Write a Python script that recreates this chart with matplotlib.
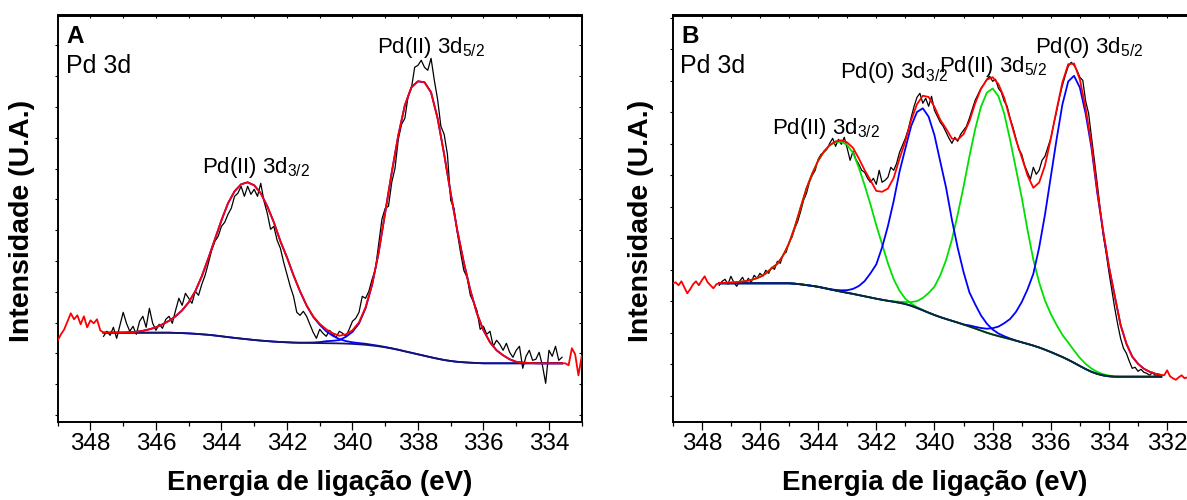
import numpy as np
import matplotlib
matplotlib.use("Agg")
import matplotlib.pyplot as plt
from matplotlib.ticker import MultipleLocator, FixedLocator, NullFormatter

plt.rcParams['font.family'] = ['Liberation Sans', 'DejaVu Sans']
plt.rcParams['mathtext.fontset'] = 'custom'
plt.rcParams['mathtext.rm'] = 'Liberation Sans'
plt.rcParams['mathtext.it'] = 'Liberation Sans:italic'
plt.rcParams['mathtext.bf'] = 'Liberation Sans:bold'

# ---------------------------------------------------------------- data
# Panel A : Pd 3d, only Pd(II).  Intensities in arbitrary units.
A_DATA_START, A_DATA_STEP = 347.6, 0.1          # measured spectrum, fit window
a_counts = [86, 91, 87, 95, 84, 97, 110, 99, 91, 96,
            88, 101, 106, 95, 114, 99, 92, 98, 94, 103,
            106, 99, 112, 124, 117, 129, 124, 119, 131, 127,
            138, 147, 159, 172, 181, 186, 196, 200, 208, 214,
            226, 229, 236, 226, 236, 228, 233, 226, 239, 221,
            209, 193, 196, 182, 174, 160, 148, 136, 126, 110,
            107, 111, 106, 98, 90, 84, 93, 89, 86, 92,
            88, 85, 91, 89, 86, 93, 101, 104, 110, 126,
            124, 131, 143, 153, 178, 203, 214, 216, 240, 254,
            283, 298, 304, 326, 334, 355, 357, 362, 355, 352,
            364, 342, 323, 296, 288, 268, 222, 214, 190, 170,
            152, 145, 127, 120, 112, 93, 96, 88, 91, 76,
            82, 78, 72, 79, 70, 65, 72, 76, 54, 66,
            72, 62, 63, 70, 57, 39, 72, 66, 76, 62,
            65]
# spectrum outside the fit window (drawn with the envelope colour)
a_edge_left = [82, 88, 93, 101, 109, 103, 107, 98, 106, 95, 102, 99, 103, 92, 89.6]   # 349.0 -> 347.6
a_edge_right = [59, 59, 57, 74, 68, 47, 66]                                           # 333.6 -> 333.0

A_FIT_START, A_FIT_STEP = 347.6, 0.2
a_background = [89.6, 89.6, 89.6, 89.6, 89.6, 89.6, 89.6, 89.6, 89.6, 89.6,
                89.6, 89.4, 89.2, 88.9, 88.5, 88.0, 87.5, 86.8, 86.0, 85.2,
                84.4, 83.7, 83.0, 82.3, 81.7, 81.2, 80.7, 80.3, 80.0, 79.7,
                79.5, 79.4, 79.3, 79.2, 79.1, 79.0, 78.9, 78.7, 78.4, 78.0,
                77.5, 76.8, 76.0, 75.0, 73.8, 72.5, 71.0, 69.5, 68.0, 66.5,
                65.0, 63.6, 62.3, 61.3, 60.5, 60.0, 59.6, 59.3, 59.0, 59.0,
                59.0, 59.0, 59.0, 59.0, 59.0, 59.0, 59.0, 59.0, 59.0, 59.0,
                59.0]
a_pd2_32 = [0, 0, 0, 0.1, 0.4, 0.9, 1.9, 3.4, 5.4, 8.4,
            11.9, 16.6, 22.8, 31.1, 42.5, 58.0, 76.5, 96.2, 116.0, 133.8,
            146.6, 154.3, 157.0, 154.7, 147.3, 134.8, 119.3, 100.7, 85.0, 67.3,
            51.4, 37.3, 26.2, 18.3, 11.9, 7.5, 4.3, 2.5, 1.6, 1.2,
            1.0, 0.7, 0.5, 0.3, 0.2, 0.1, 0, 0, 0, 0,
            0, 0, 0, 0, 0, 0, 0, 0, 0, 0,
            0, 0, 0, 0, 0, 0, 0, 0, 0, 0,
            0]
a_pd2_52 = [0, 0, 0, 0, 0, 0, 0, 0, 0, 0,
            0, 0, 0, 0, 0, 0, 0, 0, 0, 0,
            0, 0, 0, 0, 0, 0, 0, 0, 0, 0,
            0.1, 0.3, 0.5, 1.0, 2.0, 2.5, 3.3, 6.8, 12.0, 20.8,
            36.5, 60.5, 93.5, 134.7, 176.0, 214.5, 246.0, 265.5, 273.0, 273.5,
            265.0, 240.4, 205.7, 167.7, 131.5, 100.0, 72.4, 49.7, 33.0, 21.0,
            13.0, 8.0, 4.0, 1.5, 0.7, 0.3, 0.1, 0, 0, 0,
            0]

# Panel B : Pd 3d, Pd(0) + Pd(II)
B_DATA_START, B_DATA_STEP = 347.4, 0.1
b_counts = [137, 141, 143, 138, 146, 140, 136, 141, 145, 139,
            144, 140, 147, 144, 149, 146, 152, 149, 155, 153,
            161, 159, 168, 170, 180, 185, 194, 201, 211, 222,
            229, 240, 247, 252, 263, 268, 270, 273, 279, 284,
            276, 283, 278, 285, 274, 262, 271, 263, 258, 252,
            250, 244, 240, 244, 238, 252, 240, 242, 245, 255,
            252, 259, 270, 277, 284, 293, 305, 316, 325, 329,
            319, 324, 316, 326, 312, 306, 300, 296, 290, 284,
            279, 285, 281, 288, 292, 296, 304, 313, 322, 328,
            334, 338, 343, 346, 341, 343, 334, 330, 321, 316,
            304, 295, 284, 273, 268, 257, 250, 243, 255, 248,
            252, 262, 266, 275, 284, 298, 311, 325, 337, 347,
            356, 360, 357, 352, 345, 342, 321, 309, 285, 262,
            238, 213, 188, 170, 150, 132, 114, 98, 84, 74,
            69, 61, 54, 55, 51, 53, 50, 49, 47, 50,
            46, 47, 45.6]
b_edge_left = [139, 140, 137, 141, 135, 129, 133, 138, 141, 137,
               142, 146, 140, 137, 134, 138, 139.3]                  # 349.0 -> 347.4
b_edge_right = [47.3, 47, 52, 46, 44, 42.5, 45, 47, 44, 45]          # 332.2 -> 331.3

B_FIT_START, B_FIT_STEP = 347.4, 0.2
b_background = [139, 139, 139, 139, 139, 139, 139, 139, 139, 139,
                139, 139, 139, 138.6, 138, 137.2, 136.4, 135.5, 134.3, 133,
                131.8, 130.6, 129.5, 128.4, 127.2, 126, 124.8, 123.6, 122.5, 121.5,
                120.5, 119.5, 118.3, 116.5, 114.3, 112, 109.6, 107.3, 105.2, 103.3,
                101.5, 99.7, 97.8, 95.8, 93.8, 91.7, 89.6, 87.8, 86.2, 84.7,
                83.2, 81.6, 80, 78.4, 76.7, 74.8, 72.6, 70.3, 67.8, 65.3,
                62.5, 59.5, 56.3, 53.2, 50.5, 48.4, 46.9, 46, 45.6, 45.6,
                45.6, 45.6, 45.6, 45.6, 45.6, 45.6, 45.6]
b_pd2_32 = [0.3, 0.45, 0.75, 1.2, 1.8, 2.7, 4.2, 6.3, 9.8, 15,
            19.5, 28, 40, 57, 77, 96.8, 112.5, 126, 136.5, 144,
            148.5, 150, 147.8, 141, 127.5, 111, 93, 73.5, 55.5, 37.5,
            22.5, 12, 5.2, 2.2, 0.9, 0.3, 0, 0, 0, 0,
            0, 0, 0, 0, 0, 0, 0, 0, 0, 0,
            0, 0, 0, 0, 0, 0, 0, 0, 0, 0,
            0, 0, 0, 0, 0, 0, 0, 0, 0, 0,
            0, 0, 0, 0, 0, 0, 0]
b_pd0_32 = [0, 0, 0, 0, 0, 0, 0, 0, 0, 0,
            0, 0, 0, 0, 0, 0, 0, 0, 0, 0.2,
            0.6, 1.4, 2.6, 5, 9.1, 15.2, 24.2, 34.3, 52.5, 74.7,
            101, 131.3, 155.5, 179.8, 196, 202, 196, 179.8, 155.5, 131.3,
            101, 74.7, 52.5, 34.3, 24.2, 15.2, 9.1, 5, 2.6, 1.4,
            0.6, 0.2, 0, 0, 0, 0, 0, 0, 0, 0,
            0, 0, 0, 0, 0, 0, 0, 0, 0, 0,
            0, 0, 0, 0, 0, 0, 0]
b_pd2_52 = [0, 0, 0, 0, 0, 0, 0, 0, 0, 0,
            0, 0, 0, 0, 0, 0, 0, 0, 0, 0,
            0, 0, 0, 0, 0, 0, 0, 0, 0, 0,
            0.5, 1, 2, 3.7, 6.9, 12.3, 19.7, 28.3, 41.8, 59,
            81.2, 108.2, 137.8, 169.7, 199.3, 223.9, 239.9, 246, 239.9, 223.9,
            199.3, 172.2, 145, 114, 86, 65, 49.2, 38.1, 29.5, 22.1,
            17.2, 12.3, 8.1, 5.2, 3.2, 2, 1.2, 0.7, 0.3, 0,
            0, 0, 0, 0, 0, 0, 0]
b_pd0_52 = [0, 0, 0, 0, 0, 0, 0, 0, 0, 0,
            0, 0, 0, 0, 0, 0, 0, 0, 0, 0,
            0, 0, 0, 0, 0, 0, 0, 0, 0, 0,
            0, 0, 0, 0, 0, 0, 0, 0, 0, 0,
            0, 0, 0, 1.1, 1.7, 2.6, 4, 6.3, 9.5, 14.4,
            20.1, 28.7, 40.2, 54.5, 71.8, 100, 135, 175.1, 215.3, 252.6,
            278.4, 287, 278.4, 255.4, 223.9, 180.8, 143.5, 109.1, 80.4, 51.7,
            33, 20.1, 12.9, 8, 4.9, 2.9, 1.7]

x_major_ticks_a = [348, 346, 344, 342, 340, 338, 336, 334]
x_major_ticks_b = [348, 346, 344, 342, 340, 338, 336, 334, 332]


def energy_axis(start, step, n):
    """Binding energies of n equally spaced channels, descending from start."""
    return np.round(start - step * np.arange(n), 3)


# ---------------------------------------------------------------- layout
W, H = 1187, 500
fig = plt.figure(figsize=(W / 100, H / 100), dpi=100)


def px_box(left, top, right, bottom):
    return [left / W, 1 - bottom / H, (right - left) / W, (bottom - top) / H]


def px_text(x, y, s, **kw):
    fig.text(x / W, 1 - y / H, s, **kw)


ax_a = fig.add_axes(px_box(57.7, 15.5, 581.7, 422.3))
ax_b = fig.add_axes(px_box(672.7, 15.5, 1196.2, 422.3))

RED, BLUE, GREEN = '#ff0000', '#0000ff', '#00e000'
LW_DATA, LW_FIT = 0.9, 1.3


def style_axes(ax, xlim, major, ytick_start, ytick_step):
    ax.set_xlim(*xlim)
    ax.set_ylim(0, 406.8)
    for sp in ax.spines.values():
        sp.set_linewidth(1.4)
    ax.xaxis.set_major_locator(FixedLocator(major))
    ax.xaxis.set_minor_locator(MultipleLocator(1))
    ax.set_xticklabels([str(t) for t in major])
    ax.tick_params(axis='x', which='major', direction='out', length=5.5, width=0.9,
                   labelsize=17.5, pad=2.5, top=False)
    ax.tick_params(axis='x', which='minor', direction='out', length=2.8, width=0.9, top=False)
    yt = np.arange(ytick_start, 406.8, ytick_step)
    ax.set_yticks(yt)
    ax.yaxis.set_major_formatter(NullFormatter())
    ax.tick_params(axis='y', which='major', direction='out', length=2.2, width=0.8,
                   left=True, right=False, labelleft=False)
    top = ax.secondary_xaxis('top')
    top.xaxis.set_major_locator(MultipleLocator(1))
    top.tick_params(direction='in', length=2.2, width=0.8, labeltop=False)
    top.spines['top'].set_linewidth(1.4)
    right = ax.secondary_yaxis('right')
    right.set_yticks(yt)
    right.tick_params(direction='in', length=2.2, width=0.8, labelright=False)
    right.spines['right'].set_linewidth(1.4)


# ---------------------------------------------------------------- panel A
ea = energy_axis(A_DATA_START, A_DATA_STEP, len(a_counts))
ef = energy_axis(A_FIT_START, A_FIT_STEP, len(a_background))
bg = np.array(a_background)
p32, p52 = np.array(a_pd2_32), np.array(a_pd2_52)

ax_a.plot(ea, a_counts, color='black', lw=LW_DATA, zorder=2)
ax_a.plot(ef, bg + p32, color=BLUE, lw=LW_FIT, zorder=3)
ax_a.plot(ef, bg + p52, color=BLUE, lw=LW_FIT, zorder=3)
ax_a.plot(ef, bg, color='#14146e', lw=LW_FIT, zorder=4)
ax_a.plot(ef, bg + p32 + p52, color=RED, lw=LW_FIT, zorder=5)
ax_a.plot(energy_axis(349.0, 0.1, len(a_edge_left)), a_edge_left, color=RED, lw=LW_FIT, zorder=5)
ax_a.plot(energy_axis(333.6, 0.1, len(a_edge_right)), a_edge_right, color=RED, lw=LW_FIT, zorder=5)
style_axes(ax_a, (349, 333), x_major_ticks_a, 7.3, 30.8)

# ---------------------------------------------------------------- panel B
eb = energy_axis(B_DATA_START, B_DATA_STEP, len(b_counts))
ebf = energy_axis(B_FIT_START, B_FIT_STEP, len(b_background))
bgb = np.array(b_background)
g1, b1 = np.array(b_pd2_32), np.array(b_pd0_32)
g2, b2 = np.array(b_pd2_52), np.array(b_pd0_52)

ax_b.plot(eb, b_counts, color='black', lw=LW_DATA, zorder=2)
ax_b.plot(ebf, bgb + g1, color=GREEN, lw=LW_FIT, zorder=3)
ax_b.plot(ebf, bgb + g2, color=GREEN, lw=LW_FIT, zorder=3)
ax_b.plot(ebf, bgb + b1, color=BLUE, lw=LW_FIT, zorder=3)
ax_b.plot(ebf, bgb + b2, color=BLUE, lw=LW_FIT, zorder=3)
ax_b.plot(ebf, bgb, color='#0c2a2a', lw=LW_FIT, zorder=4)
ax_b.plot(ebf, bgb + g1 + b1 + g2 + b2, color=RED, lw=LW_FIT, zorder=5)
ax_b.plot(energy_axis(349.0, 0.1, len(b_edge_left)), b_edge_left, color=RED, lw=LW_FIT, zorder=5)
ax_b.plot(energy_axis(332.2, 0.1, len(b_edge_right)), b_edge_right, color=RED, lw=LW_FIT, zorder=5)
style_axes(ax_b, (349, 331), x_major_ticks_b, 26.5, 31.5)

# ---------------------------------------------------------------- text
for x0, letter in ((66.7, 'A'), (681.0, 'B')):
    px_text(x0, 43.0, letter, fontsize=17.5, fontweight='bold', va='baseline', ha='left')
    px_text(x0 - 0.5, 72.7, 'Pd 3d', fontsize=18, va='baseline', ha='left')

peak_labels = [
    (377, 52.7, r'Pd(II) 3d$_{\mathregular{5/2}}$'),
    (202, 173.0, r'Pd(II) 3d$_{\mathregular{3/2}}$'),
    (772, 134.0, r'Pd(II) 3d$_{\mathregular{3/2}}$'),
    (840, 78.3, r'Pd(0) 3d$_{\mathregular{3/2}}$'),
    (939, 71.7, r'Pd(II) 3d$_{\mathregular{5/2}}$'),
    (1035, 53.3, r'Pd(0) 3d$_{\mathregular{5/2}}$'),
]
for x0, y0, s in peak_labels:
    px_text(x0, y0, s, fontsize=16, va='baseline', ha='left')

for xc in (319.7, 934.4):
    px_text(xc, 490, 'Energia de ligação (eV)', fontsize=20, fontweight='bold',
            ha='center', va='baseline')
for xc in (21.7, 641.0):
    px_text(xc, 221, 'Intensidade (U.A.)', fontsize=20.5, fontweight='bold',
            ha='center', va='center', rotation=90)

fig.savefig('out.png', dpi=100)
